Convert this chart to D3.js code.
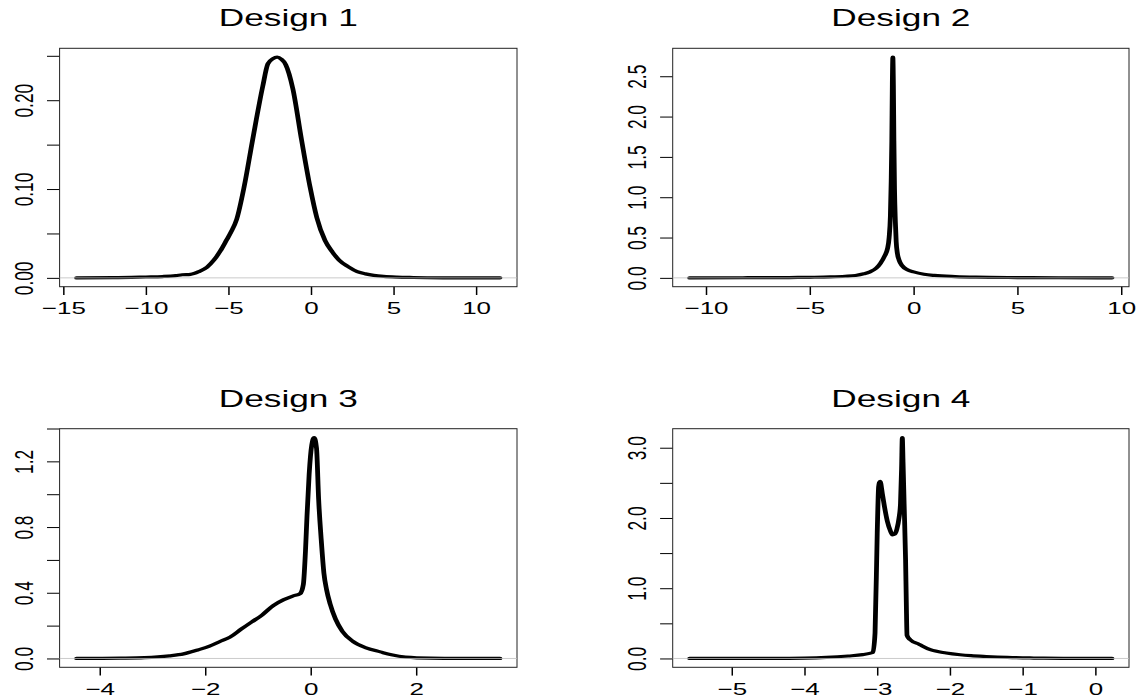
<!DOCTYPE html>
<html>
<head>
<meta charset="utf-8">
<script src="https://cdn.jsdelivr.net/npm/d3@7"></script>
<style>
  body { margin: 0; background: #fff; }
  text { font-family: "Liberation Sans", Arial, Helvetica, sans-serif; fill: #000; }
</style>
</head>
<body>
<div id="chart"></div>
<script>
// panel titles
const titles = ["Design 1", "Design 2", "Design 3", "Design 4"];

// density estimates
const design1X = [-14.2, -12, -10, -9, -8.2, -7.8, -7.3, -6.8, -6.3, -5.88, -5.5, -5.1, -4.86, -4.5, -4.05, -3.54, -2.93, -2.61, -2.3, -2.05, -1.8, -1.53, -1.1, -0.57, -0.06, 0.35, 0.85, 1.3, 1.7, 2.27, 2.8, 3.3, 3.8, 4.4, 5.2, 6.2, 8, 11.45];
const design1Y = [0, 0.0002, 0.001, 0.0015, 0.0025, 0.0035, 0.004, 0.007, 0.012, 0.02, 0.03, 0.043, 0.051, 0.066, 0.1025, 0.155, 0.215, 0.241, 0.2468, 0.2485, 0.2462, 0.24, 0.213, 0.155, 0.1025, 0.068, 0.042, 0.029, 0.02, 0.0124, 0.007, 0.0045, 0.0028, 0.0016, 0.0008, 0.0004, 0.0001, 0];

const design2X = [-10.79, -8, -6, -5, -4, -3.3, -2.8, -2.4, -2.1, -1.8, -1.6, -1.4, -1.26, -1.18, -1.12, -1.08, -1.05, -1.025, -1.0, -0.975, -0.95, -0.92, -0.88, -0.84, -0.78, -0.7, -0.55, -0.3, 0, 0.5, 1.0, 2, 3, 5, 7, 9.56];
const design2Y = [0, 0.002, 0.004, 0.007, 0.012, 0.02, 0.03, 0.05, 0.075, 0.12, 0.18, 0.27, 0.36, 0.5, 0.76, 1.2, 1.7, 2.4, 2.737, 2.4, 1.7, 1.1, 0.7, 0.45, 0.3, 0.22, 0.15, 0.1, 0.074, 0.045, 0.03, 0.016, 0.009, 0.004, 0.0015, 0];

const design3X = [-4.44, -3.6, -3.15, -2.68, -2.41, -2.14, -1.93, -1.73, -1.53, -1.32, -1.12, -0.92, -0.71, -0.51, -0.34, -0.2, -0.14, -0.1, -0.07, -0.03, 0.02, 0.065, 0.11, 0.15, 0.2, 0.25, 0.3, 0.37, 0.47, 0.6, 0.8, 1.05, 1.32, 1.53, 1.8, 2.27, 3.0, 3.59];
const design3Y = [0, 0.002, 0.005, 0.016, 0.028, 0.052, 0.073, 0.102, 0.13, 0.178, 0.222, 0.265, 0.322, 0.358, 0.38, 0.395, 0.45, 0.65, 0.87, 1.12, 1.3, 1.345, 1.28, 0.97, 0.72, 0.52, 0.42, 0.33, 0.24, 0.165, 0.104, 0.065, 0.04, 0.022, 0.008, 0.002, 0.0004, 0];

const design4X = [-5.58, -4.5, -4.0, -3.7, -3.4, -3.2, -3.06, -3.03, -3.0, -2.98, -2.96, -2.93, -2.9, -2.86, -2.82, -2.79, -2.76, -2.73, -2.7, -2.68, -2.665, -2.655, -2.645, -2.63, -2.61, -2.6, -2.59, -2.55, -2.42, -2.27, -2.05, -1.86, -1.71, -1.5, -1.21, -0.9, -0.71, -0.3, 0.23];
const design4Y = [0, 0.002, 0.006, 0.015, 0.035, 0.055, 0.085, 0.36, 1.78, 2.45, 2.52, 2.35, 2.16, 1.95, 1.82, 1.76, 1.77, 1.84, 2.0, 2.2, 2.7, 3.145, 2.8, 2.2, 1.4, 0.8, 0.33, 0.27, 0.2, 0.125, 0.078, 0.053, 0.04, 0.028, 0.015, 0.007, 0.004, 0.001, 0];

// axis ticks and their labels ("" = tick without label)
const xTicks1 = [-15, -10, -5, 0, 5, 10];
const xTicks2 = [-10, -5, 0, 5, 10];
const xTicks3 = [-4, -2, 0, 2];
const xTicks4 = [-5, -4, -3, -2, -1, 0];
const yTicks1 = [0, 0.05, 0.10, 0.15, 0.20, 0.25];
const yLabels1 = ["0.00", "", "0.10", "", "0.20", ""];
const yTicks2 = [0, 0.5, 1.0, 1.5, 2.0, 2.5];
const yLabels2 = ["0.0", "0.5", "1.0", "1.5", "2.0", "2.5"];
const yTicks3 = [0, 0.2, 0.4, 0.6, 0.8, 1.0, 1.2, 1.4];
const yLabels3 = ["0.0", "", "0.4", "", "0.8", "", "1.2", ""];
const yTicks4 = [0, 0.5, 1.0, 1.5, 2.0, 2.5, 3.0];
const yLabels4 = ["0.0", "", "1.0", "", "2.0", "", "3.0"];

// the original is stretched sideways, so text and curves get the same stretch
var stretch = 1.5;

var svg = d3.select("#chart").append("svg")
  .attr("width", 1140)
  .attr("height", 700);

var panels = [
  { box: { left: 59.6, right: 517, top: 48.3, bottom: 286.7 }, titleY: 26.3, xs: design1X, ys: design1Y, xTicks: xTicks1, yTicks: yTicks1, yLabels: yLabels1 },
  { box: { left: 672.7, right: 1129, top: 48.3, bottom: 286.7 }, titleY: 26.3, xs: design2X, ys: design2Y, xTicks: xTicks2, yTicks: yTicks2, yLabels: yLabels2 },
  { box: { left: 59.6, right: 517, top: 428.7, bottom: 667.3 }, titleY: 406.7, xs: design3X, ys: design3Y, xTicks: xTicks3, yTicks: yTicks3, yLabels: yLabels3 },
  { box: { left: 672.7, right: 1129, top: 428.7, bottom: 667.3 }, titleY: 406.7, xs: design4X, ys: design4Y, xTicks: xTicks4, yTicks: yTicks4, yLabels: yLabels4 }
];

panels.forEach(function (p, i) { drawPanel(p, titles[i]); });

function fmtTick(d) {
  return d < 0 ? "\u2212" + Math.abs(d) : String(d);
}

function drawPanel(p, title) {
  var b = p.box;
  var g = svg.append("g");

  // R style ranges: data range padded by 4% on each side
  var xmin = d3.min(p.xs), xmax = d3.max(p.xs);
  var pad = (xmax - xmin) * 0.04;
  var x = d3.scaleLinear().domain([xmin - pad, xmax + pad]).range([b.left, b.right]);
  var ymax = d3.max(p.ys);
  var y = d3.scaleLinear().domain([-0.04 * ymax, 1.04 * ymax]).range([b.bottom, b.top]);

  // x axis
  var xa = g.append("g")
    .attr("transform", "translate(0," + b.bottom + ")")
    .call(d3.axisBottom(x).tickValues(p.xTicks).tickSize(8.3).tickSizeOuter(0).tickFormat(fmtTick));
  xa.select(".domain").remove();
  xa.selectAll(".tick line").attr("stroke", "#000").attr("stroke-width", 1.5);
  xa.selectAll(".tick text")
    .attr("y", 27.5)
    .attr("dy", 0)
    .attr("transform", "scale(" + stretch + ",1)")
    .style("font-size", "17.3px");

  // y axis, labels turned sideways
  var ya = g.append("g")
    .attr("transform", "translate(" + b.left + ",0)")
    .call(d3.axisLeft(y).tickValues(p.yTicks).tickSize(12.6).tickSizeOuter(0)
      .tickFormat(function (d, j) { return p.yLabels[j]; }));
  ya.select(".domain").remove();
  ya.selectAll(".tick line").attr("stroke", "#000").attr("stroke-width", 1);
  ya.selectAll(".tick text")
    .attr("x", 0)
    .attr("dy", 0)
    .attr("text-anchor", "middle")
    .attr("transform", "translate(-26.3,0) scale(" + stretch + ",1) rotate(-90)")
    .style("font-size", "17.3px");

  // plot box
  g.append("rect")
    .attr("x", b.left)
    .attr("y", b.top)
    .attr("width", b.right - b.left)
    .attr("height", b.bottom - b.top)
    .attr("fill", "none")
    .attr("stroke", "#222")
    .attr("stroke-width", 1);

  // density curve, drawn in the stretched space
  var xs = x.copy().range([b.left / stretch, b.right / stretch]);
  var pts = p.xs.map(function (v, k) { return [v, p.ys[k]]; });
  var line = d3.line()
    .x(function (d) { return xs(d[0]); })
    .y(function (d) { return y(d[1]); })
    .curve(d3.curveMonotoneX);
  g.append("g")
    .attr("transform", "scale(" + stretch + ",1)")
    .append("path")
    .datum(pts)
    .attr("d", line)
    .attr("fill", "none")
    .attr("stroke", "#000")
    .attr("stroke-width", 3.2)
    .attr("stroke-linejoin", "round")
    .attr("stroke-linecap", "round");

  // zero line
  g.append("line")
    .attr("x1", b.left)
    .attr("x2", b.right)
    .attr("y1", y(0))
    .attr("y2", y(0))
    .attr("stroke", "#bebebe")
    .attr("stroke-width", 0.8);

  // title
  g.append("text")
    .attr("text-anchor", "middle")
    .attr("transform", "translate(" + ((b.left + b.right) / 2) + "," + p.titleY + ") scale(" + stretch + ",1)")
    .style("font-size", "23.5px")
    .text(title);
}
</script>
</body>
</html>
